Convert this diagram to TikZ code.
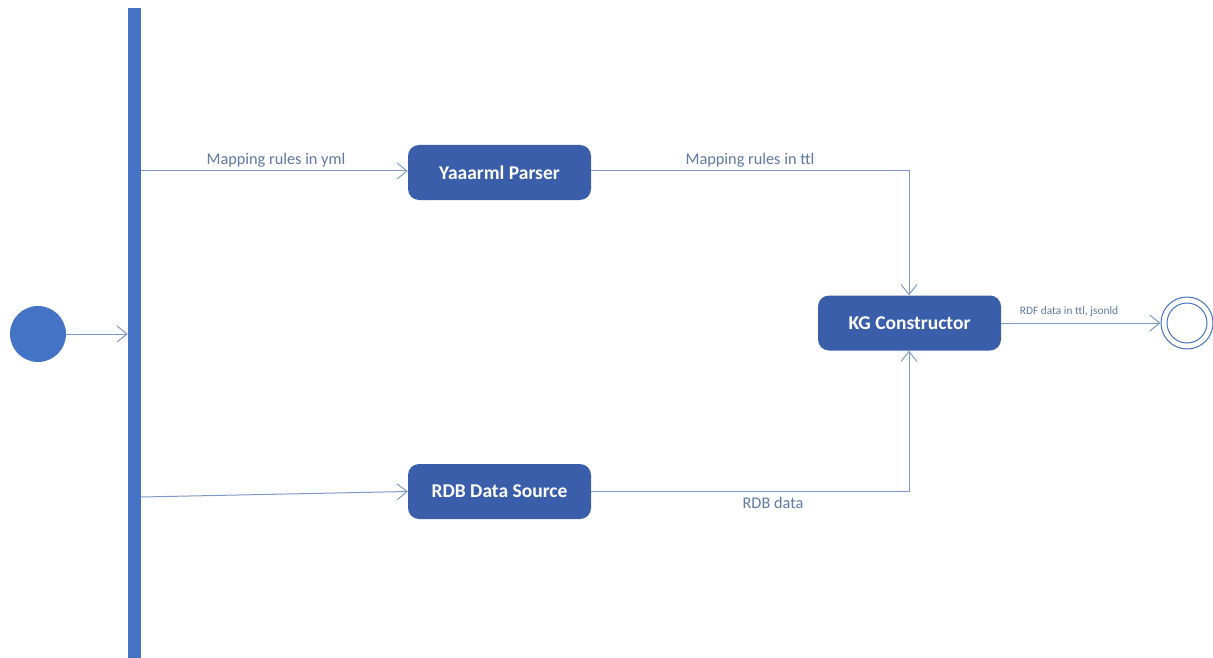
\documentclass[tikz,border=0pt]{standalone}
\usepackage{fontspec}
\setmainfont{Carlito}
\usetikzlibrary{arrows.meta}
\definecolor{boxblue}{RGB}{59,94,171}
\definecolor{startblue}{RGB}{68,114,196}
\definecolor{lineblue}{RGB}{125,152,198}
\definecolor{labelblue}{RGB}{95,120,165}
\tikzset{
  actbox/.style={draw=none, fill=boxblue, rounded corners=11pt, minimum width=183pt, minimum height=55pt,
    text=white, font=\fontsize{19.5}{22}\selectfont\bfseries, inner sep=0pt},
  flow/.style={draw=lineblue, line width=1pt, -{Straight Barb[length=10pt,width=16pt,line width=1pt]}},
  lbl/.style={text=labelblue, font=\fontsize{16.3}{18}\selectfont, inner sep=0pt},
  smalllbl/.style={text=labelblue, font=\fontsize{11.4}{13}\selectfont, inner sep=0pt}
}
\begin{document}
\begin{tikzpicture}[x=1pt,y=-1pt]
\useasboundingbox (0,0) rectangle (1213,658);
% start node
\node[circle, fill=startblue, minimum size=56pt, inner sep=0pt] (start) at (38,334) {};
% fork bar
\node[fill=startblue, minimum width=13pt, minimum height=650pt, inner sep=0pt, anchor=north] (bar) at (134.5,8) {};
% activities
\node[actbox] (parser) at (499.5,172.5) {Yaaarml Parser};
\node[actbox] (rdb) at (499.5,491.5) {RDB Data Source};
\node[actbox] (kg) at (909.5,323) {KG Constructor};
% end node
\node[circle, draw=startblue, line width=1pt, minimum size=52pt, inner sep=0pt] (end) at (1187,323) {};
\node[circle, draw=startblue, line width=1pt, minimum size=40pt, inner sep=0pt] (endin) at (1187,323) {};
% coordinates
\coordinate (b1) at (141,171);
\coordinate (b2) at (141,497);
\coordinate (c1) at (909,171);
\coordinate (c2) at (909,491);
% connectors
\draw[flow] (start.east) -- (start.east -| bar.west);
\draw[flow] (b1) -- (parser.west |- b1);
\draw[flow] (b2) -- (rdb.west);
\draw[flow] (parser.east |- c1) -- (c1) -- (kg.north -| c1);
\draw[flow] (rdb.east |- c2) -- (c2) -- (kg.south -| c2);
\draw[flow] (kg.east) -- (end.west);
% labels
\node[lbl] (l1) at (276,160) {Mapping rules in yml};
\node[lbl] (l2) at (750,160) {Mapping rules in ttl};
\node[lbl] (l3) at (773,503) {RDB data};
\node[smalllbl] (l4) at (1069,312) {RDF data in ttl, jsonld};
\end{tikzpicture}
\end{document}
